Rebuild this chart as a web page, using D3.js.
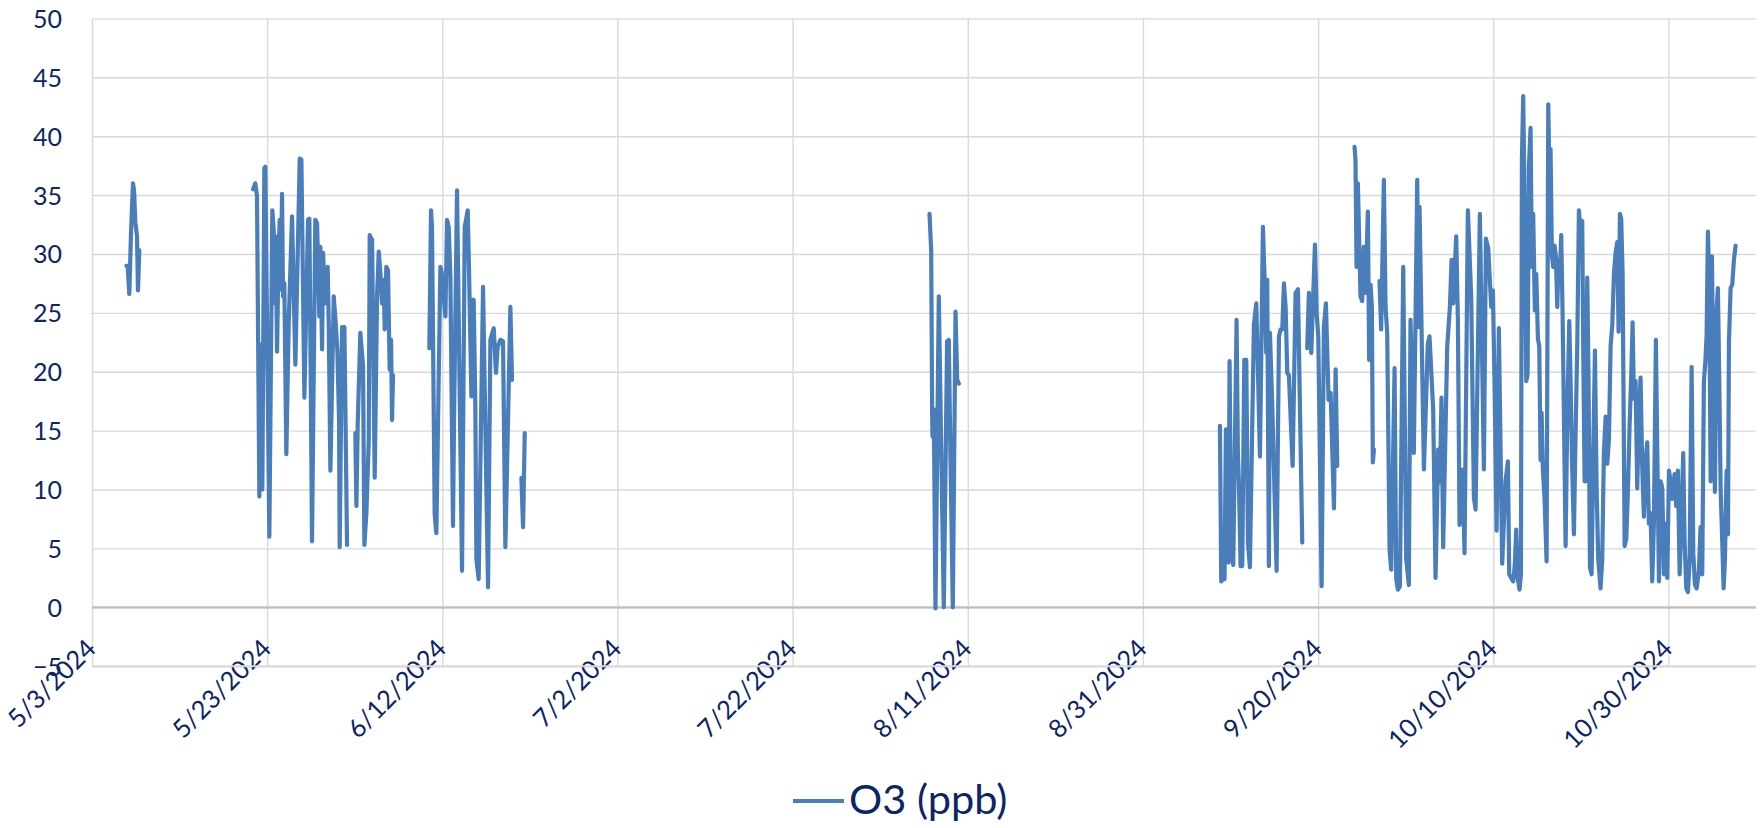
<!DOCTYPE html>
<html>
<head>
<meta charset="utf-8">
<script src="https://cdn.jsdelivr.net/npm/d3@7"></script>
<style>
  body { margin: 0; background: #ffffff; }
  svg { display: block; font-family: Lato, "Open Sans", sans-serif; }
</style>
</head>
<body>
<svg id="chart" width="1760" height="828"></svg>
<script>
// ---------------- data ----------------
const seriesName = "O3 (ppb)";
const startDate = "5/3/2024";          // day 0 of the offsets below
const endDate = "11/9/2024";
const xTickLabels = ["5/3/2024", "5/23/2024", "6/12/2024", "7/2/2024", "7/22/2024",
                     "8/11/2024", "8/31/2024", "9/20/2024", "10/10/2024", "10/30/2024"];
const yTicks = [-5, 0, 5, 10, 15, 20, 25, 30, 35, 40, 45, 50];

// each record: [days since 5/3/2024, O3 ppb]; separate arrays are separate runs (gaps between)
const runEarlyMay = [[3.92,29.0],[4.07,29.0],[4.26,26.6],[4.45,31.7],[4.68,36.0],[4.80,35.4],
  [4.95,32.7],[5.14,31.5],[5.25,26.9],[5.40,30.3]];

const runLateMay = [[18.39,35.5],[18.65,36.0],[18.84,34.9],[19.11,9.4],[19.30,22.3],[19.45,10.0],
  [19.68,37.3],[19.79,37.4],[20.25,6.0],[20.59,33.7],[20.75,32.0],[20.86,25.8],[20.98,31.5],
  [21.13,21.7],[21.28,29.2],[21.43,32.9],[21.55,27.0],[21.70,35.1],[21.81,26.4],[21.96,27.5],
  [22.19,13.0],[22.46,24.1],[22.84,33.2],[23.22,20.6],[23.72,38.1],[23.91,38.0],[24.25,17.8],
  [24.67,32.9],[24.82,33.0],[25.05,12.5],[25.12,5.6],[25.50,32.9],[25.70,32.6],[25.96,24.7],
  [26.08,30.6],[26.27,21.9],[26.38,30.1],[26.65,25.8],[26.91,28.9],[27.03,24.1],[27.22,11.6],
  [27.60,26.4],[27.83,24.1],[28.02,21.7],[28.21,15.9],[28.28,5.1],[28.55,23.8],[28.82,23.8],
  [29.12,5.3]];

const runEarlyJune = [[30.07,14.8],[30.19,8.6],[30.34,15.6],[30.64,23.3],[30.95,20.5],[31.10,5.3],
  [31.33,8.0],[31.60,14.2],[31.71,31.6],[31.98,31.2],[32.28,11.0],[32.55,26.4],[32.74,30.2],
  [32.93,28.4],[33.12,25.8],[33.31,27.8],[33.42,23.6],[33.61,28.9],[33.80,28.6],[33.99,20.2],
  [34.15,22.7],[34.26,15.9],[34.37,19.7]];

const runMidJune = [[38.52,22.0],[38.71,33.7],[38.82,32.3],[39.13,7.9],[39.32,6.3],[39.78,28.9],
  [39.93,28.4],[40.35,24.7],[40.54,32.9],[40.73,32.3],[40.92,28.1],[41.22,6.9],[41.34,16.1],
  [41.68,35.4],[42.25,3.1],[42.56,32.3],[42.90,33.7],[43.05,28.6],[43.20,22.7],[43.32,17.9],
  [43.39,26.1],[43.58,26.1],[43.77,17.1],[43.89,4.1],[44.15,2.4],[44.65,27.2],[45.22,1.7],
  [45.49,22.7],[45.87,23.7],[46.13,19.9],[46.32,22.1],[46.63,22.7],[46.93,22.6],[47.20,5.1],
  [47.77,25.5],[47.96,19.3]];

const runLateJune = [[49.03,11.0],[49.22,6.8],[49.41,14.8]];

const runAugust = [[95.63,33.4],[95.82,30.3],[95.93,16.5],[95.97,14.5],[96.12,16.8],[96.31,-0.1],
  [96.69,26.4],[96.96,13.7],[97.26,0.0],[97.64,22.6],[97.83,22.7],[98.02,12.8],[98.29,0.0],
  [98.60,25.1],[98.79,19.3],[98.98,19.0]];

const runMidSept = [[128.79,15.4],[128.94,2.2],[129.17,2.4],[129.32,2.4],[129.47,15.1],[129.63,14.9],
  [129.78,3.8],[129.89,20.9],[130.08,4.9],[130.31,3.6],[130.69,24.4],[130.84,13.1],[130.96,10.4],
  [131.15,3.5],[131.34,3.5],[131.57,21.0],[131.80,21.0],[131.99,5.5],[132.21,3.4],[132.67,24.0],
  [132.94,25.8],[133.17,18.8],[133.36,12.8],[133.70,32.3],[133.89,27.8],[134.08,21.6],[134.19,27.8],
  [134.38,3.5],[134.50,23.3],[134.76,17.3],[135.26,3.1],[135.53,23.0],[135.72,23.6],[135.91,23.6],
  [136.10,27.5],[136.29,25.5],[136.48,19.9],[136.67,19.7],[137.09,12.0],[137.43,26.7],[137.70,27.0],
  [138.19,5.5]];

const runSept20 = [[138.76,22.0],[138.95,26.7],[139.22,21.6],[139.64,30.8],[139.83,25.0],[140.02,23.0],
  [140.40,1.8],[140.66,23.8],[140.89,25.8],[141.20,17.6],[141.43,18.2],[141.81,8.4],[142.00,20.2],
  [142.19,12.0]];

const runLateSept = [[144.16,39.1],[144.27,38.0],[144.39,28.9],[144.54,36.0],[144.84,26.4],[145.03,26.0],
  [145.22,30.6],[145.41,26.7],[145.68,33.6],[145.83,21.0],[145.99,27.4],[146.14,25.5],[146.25,12.3],
  [146.37,13.4]];

const runOctNov = [[147.01,27.7],[147.20,23.6],[147.51,36.3],[147.70,25.5],[147.89,23.3],[148.16,4.9],
  [148.35,3.2],[148.57,13.1],[148.73,20.3],[148.92,2.4],[149.11,1.5],[149.34,1.8],[149.72,28.9],
  [150.06,4.1],[150.36,1.9],[150.55,24.4],[150.93,13.1],[151.32,36.3],[151.47,23.8],[151.58,34.0],
  [152.08,11.7],[152.53,22.4],[152.72,23.0],[153.14,16.8],[153.41,2.5],[153.71,13.4],[153.90,10.6],
  [154.09,17.8],[154.28,5.1],[154.74,22.1],[155.05,25.5],[155.24,29.5],[155.43,25.8],[155.77,31.5],
  [155.96,24.4],[156.15,7.0],[156.49,11.7],[156.72,4.6],[157.10,33.7],[157.48,26.4],[157.79,9.3],
  [157.98,8.3],[158.47,33.4],[158.93,11.7],[159.16,31.3],[159.42,30.5],[159.77,25.5],[159.96,26.9],
  [160.15,18.8],[160.38,6.5],[160.64,23.7],[161.02,3.7],[161.40,10.7],[161.67,12.4],[161.82,2.8],
  [162.05,2.5],[162.28,2.2],[162.47,3.7],[162.62,6.6],[162.81,2.4],[163.00,1.5],[163.16,2.8],
  [163.27,38.0],[163.42,43.4],[163.57,34.3],[163.77,19.2],[163.92,19.8],[164.07,37.4],[164.26,40.7],
  [164.41,28.9],[164.56,33.4],[164.75,25.2],[164.91,28.3],[165.10,22.8],[165.25,22.2],[165.40,12.5],
  [165.52,16.5],[165.67,11.6],[165.86,9.2],[166.09,3.9],[166.28,42.7],[166.43,35.8],[166.54,38.9],
  [166.70,29.8],[166.85,28.9],[167.00,30.7],[167.15,29.8],[167.31,25.5],[167.46,29.5],[167.61,28.3],
  [167.76,31.6],[167.91,25.2],[168.07,16.2],[168.26,5.2],[168.45,16.2],[168.68,24.3],[168.83,19.2],
  [168.98,12.8],[169.21,6.2],[169.36,13.1],[169.59,22.2],[169.78,33.7],[169.97,31.9],[170.16,32.8],
  [170.27,22.2],[170.43,10.7],[170.54,10.7],[170.73,28.0],[170.88,19.2],[171.04,3.4],[171.23,2.8],
  [171.42,13.1],[171.61,21.8],[171.80,10.1],[171.99,4.0],[172.25,1.6],[172.44,4.0],[172.63,13.1],
  [172.83,16.2],[173.02,12.2],[173.21,14.3],[173.40,22.2],[173.59,24.0],[173.78,28.3],[173.97,30.1],
  [174.16,31.0],[174.31,23.4],[174.46,33.4],[174.61,33.0],[174.77,28.3],[175.00,5.2],[175.19,5.8],
  [175.38,10.1],[175.57,15.5],[175.76,19.8],[175.91,24.2],[176.06,17.7],[176.25,19.2],[176.44,10.1],
  [176.63,16.2],[176.82,19.5],[177.01,11.9],[177.20,7.7],[177.39,12.5],[177.58,14.0],[177.77,7.1],
  [177.96,8.0],[178.15,2.2],[178.34,7.1],[178.57,22.7],[178.73,13.1],[178.92,2.2],[179.11,10.7],
  [179.30,10.1],[179.49,2.8],[179.68,7.1],[179.87,2.5],[180.06,11.6],[180.25,10.7],[180.44,9.2],
  [180.70,11.3],[180.89,8.6],[181.08,11.6],[181.28,2.8],[181.47,7.1],[181.69,13.1],[181.85,5.5],
  [182.04,1.6],[182.23,1.3],[182.42,4.0],[182.65,20.4],[182.84,4.6],[183.03,1.9],[183.22,1.6],
  [183.48,3.1],[183.67,6.8],[183.86,2.8],[184.05,19.2],[184.21,20.7],[184.36,23.1],[184.51,31.9],
  [184.66,27.7],[184.82,10.7],[184.97,29.8],[185.12,19.2],[185.31,9.8],[185.50,25.2],[185.65,27.1],
  [185.81,19.2],[185.96,10.1],[186.15,5.5],[186.30,1.6],[186.45,4.0],[186.64,11.6],[186.80,6.2],
  [186.91,22.5],[187.10,27.1],[187.29,27.4],[187.48,29.5],[187.67,30.7]];

const runs = [runEarlyMay, runLateMay, runEarlyJune, runMidJune, runLateJune, runAugust,
              runMidSept, runSept20, runLateSept, runOctNov];

// ---------------- chart ----------------
const W = 1760, H = 828;
const plot = { left: 92, right: 1756, top: 18.4, bottom: 666.2 };
const textColor = "#0c2566";
const lineColor = "#4a7ebb";
const gridColor = "#d9d9d9";

const parseDate = d3.utcParse("%m/%d/%Y");
const t0 = parseDate(startDate);
const toDate = d => new Date(t0.getTime() + d * 864e5);

const x = d3.scaleUtc().domain([t0, parseDate(endDate)]).range([plot.left, plot.right]);
const y = d3.scaleLinear().domain([d3.min(yTicks), d3.max(yTicks)]).range([plot.bottom, plot.top]);

const svg = d3.select("#chart");
svg.append("rect").attr("width", W).attr("height", H).attr("fill", "#fff");

// y gridlines + labels
const yAxis = d3.axisLeft(y).tickValues(yTicks).tickFormat(d3.format("d"))
  .tickSize(-(plot.right - plot.left)).tickPadding(30);
const gy = svg.append("g").attr("transform", `translate(${plot.left},0)`).call(yAxis);
gy.select(".domain").remove();
gy.selectAll(".tick line").attr("stroke", gridColor).attr("stroke-width", 1.4);
gy.selectAll(".tick text").attr("fill", textColor).attr("font-size", 25)
  .attr("font-family", "Lato, 'Open Sans', sans-serif").attr("dy", "0.36em");

// x gridlines + labels
const xTickDates = xTickLabels.map(parseDate);
const xAxis = d3.axisBottom(x).tickValues(xTickDates).tickFormat(d3.utcFormat("%-m/%-d/%Y"))
  .tickSize(-(plot.bottom - plot.top));
const gx = svg.append("g").attr("transform", `translate(0,${plot.bottom})`).call(xAxis);
gx.select(".domain").remove();
gx.selectAll(".tick line").attr("stroke", gridColor).attr("stroke-width", 1.4);
gx.selectAll(".tick text")
  .attr("fill", textColor).attr("font-size", 25.5)
  .attr("font-family", "Lato, 'Open Sans', sans-serif")
  .attr("x", 0).attr("y", 0).attr("dy", null)
  .attr("text-anchor", "end")
  .attr("transform", "translate(5,-16) rotate(-45)");

// bottom border line & zero axis line
svg.append("line").attr("x1", plot.left).attr("x2", plot.right)
  .attr("y1", y(-5)).attr("y2", y(-5)).attr("stroke", gridColor).attr("stroke-width", 2);
svg.append("line").attr("x1", plot.left).attr("x2", plot.right)
  .attr("y1", y(0)).attr("y2", y(0)).attr("stroke", "#bfbfbf").attr("stroke-width", 2.2);

// series
const line = d3.line().x(d => x(toDate(d[0]))).y(d => y(d[1]));
svg.append("g").selectAll("path").data(runs).join("path")
  .attr("d", line)
  .attr("fill", "none")
  .attr("stroke", lineColor)
  .attr("stroke-width", 4.2)
  .attr("stroke-linejoin", "round")
  .attr("stroke-linecap", "round");

// legend
const lg = svg.append("g");
lg.append("line").attr("x1", 793).attr("x2", 844).attr("y1", 801).attr("y2", 801)
  .attr("stroke", lineColor).attr("stroke-width", 4);
lg.append("text").attr("x", 849).attr("y", 814).attr("fill", textColor)
  .attr("font-size", 41.5).text(seriesName);
</script>
</body>
</html>
